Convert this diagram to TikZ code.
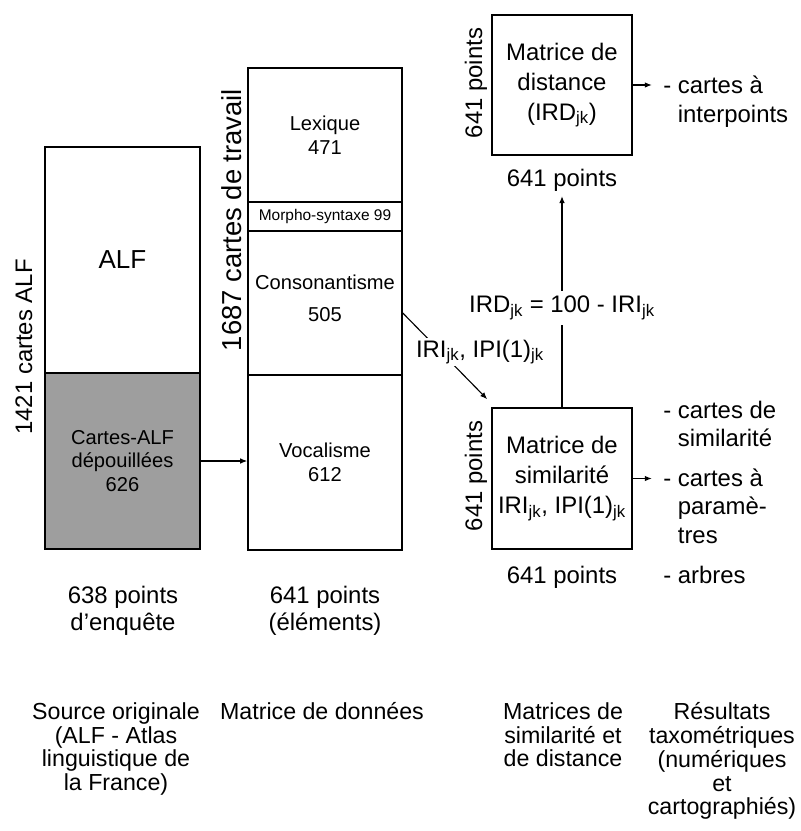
\documentclass[tikz,border=0pt]{standalone}
\usepackage{fontspec}
\setmainfont{Liberation Sans}
\usetikzlibrary{arrows.meta}
\newcommand{\jk}{\textsubscript{jk}}

\begin{document}
\begin{tikzpicture}[x=0.025cm, y=-0.025cm,
    box/.style={draw, line width=1.1pt, inner sep=0pt, align=center},
    arr/.style={line width=0.8pt, -{Latex[length=5pt,width=4pt]}},
    lbl/.style={font=\fontsize{17}{19.5}\selectfont, align=center},
    boxtxt/.style={font=\fontsize{14.3}{17}\selectfont},
    mattxt/.style={font=\fontsize{17}{21.3}\selectfont},
    res/.style={font=\fontsize{17}{20}\selectfont, align=left, inner sep=0pt, anchor=north west},
    legende/.style={font=\fontsize{16.5}{17}\selectfont, align=center, anchor=north, inner sep=0pt}]

    \useasboundingbox (0,0) rectangle (801,831);

    % source ALF
    \node[box, minimum width=3.875cm, minimum height=5.65cm, font=\fontsize{18.5}{22}\selectfont] (alf) at (122.5,260) {ALF};
    \node[box, boxtxt, fill=black!38, minimum width=3.875cm, minimum height=4.4cm] (alfdep) at (122.5,461) {Cartes-ALF\\dépouillées\\626};
    \node[lbl, rotate=90] (alfn) at (24,347) {1421 cartes ALF};
    \node[lbl] (alfpts) at (123,611) {638 points\\d'enquête};

    % matrice de donnees
    \node[box, boxtxt, minimum width=3.85cm, minimum height=3.35cm] (lex) at (325,135) {Lexique\\471};
    \node[box, minimum width=3.85cm, minimum height=0.725cm, font=\fontsize{11}{13}\selectfont] (morph) at (325,216.5) {Morpho-syntaxe 99};
    \node[box, boxtxt, minimum width=3.85cm, minimum height=3.6cm] (cons) at (325,303) {Consonantisme\\[6pt]505\\[-10pt]};
    \node[box, boxtxt, minimum width=3.85cm, minimum height=4.375cm] (voc) at (325,462.5) {Vocalisme\\612};
    \node[lbl, rotate=90, font=\fontsize{19.5}{22}\selectfont] (datan) at (232,220) {1687 cartes de travail};
    \node[lbl] (datapts) at (325,611) {641 points\\(éléments)};

    % matrices
    \node[box, mattxt, minimum width=3.5cm, minimum height=3.5cm] (dist) at (562,85) {Matrice de\\distance\\(IRD\jk)};
    \node[box, mattxt, minimum width=3.5cm, minimum height=3.525cm] (sim) at (562,478.5) {Matrice de\\similarité\\IRI\jk, IPI(1)\jk};
    \node[lbl, rotate=90] (distn) at (476,83) {641 points};
    \node[lbl, rotate=90] (simn) at (476,476) {641 points};
    \node[lbl] (distpts) at (562,180) {641 points};
    \node[lbl] (simpts) at (562,577) {641 points};

    % resultats
    \node[res] (distres) at (663,76) {- cartes à\\\phantom{- }interpoints};
    \node[res] (simres) at (663,401) {- cartes de\\\phantom{- }similarité\\[8.5pt]- cartes à\\\phantom{- }paramè-\\\phantom{- }tres\\[8.5pt]- arbres};

    % fleches
    \draw[arr] (alfdep.east) -- (alfdep.east -| voc.west);
    \draw[arr] ([yshift=-0.25cm]cons.east) -- ([xshift=-0.1cm,yshift=0.2cm]sim.north west);
    \node[lbl, fill=white, inner sep=1pt] (iri) at (480,352) {IRI\jk, IPI(1)\jk};
    \draw[arr] (sim.north) -- node[lbl, fill=white, pos=0.47] (ird) {IRD\jk{} = 100 - IRI\jk} (distpts.south);
    \draw[arr, shorten >=0.28cm] (dist.east) -- (dist.east -| distres.west);
    \draw[arr, shorten >=0.28cm] (sim.east) -- (sim.east -| simres.west);

    % legendes
    \node[legende] (srcleg) at (116,702) {Source originale\\(ALF - Atlas\\linguistique de\\la France)};
    \node[legende] (datleg) at (322,702) {Matrice de données};
    \node[legende] (matleg) at (563,702) {Matrices de\\similarité et\\de distance};
    \node[legende] (resleg) at (722,702) {Résultats\\taxométriques\\(numériques\\et\\cartographiés)};

\end{tikzpicture}
\end{document}
